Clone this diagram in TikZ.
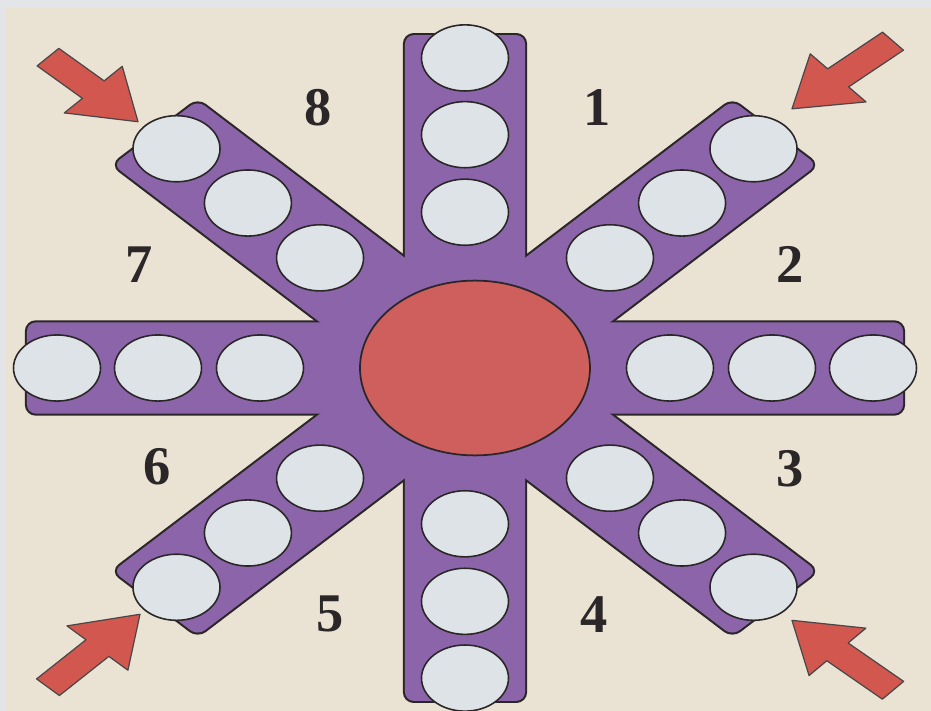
\documentclass[tikz,border=0pt]{standalone}
\usepackage{fontspec}
\setmainfont{Liberation Serif}
\usetikzlibrary{calc}

\definecolor{paper}{HTML}{EAE3D3}
\definecolor{edgegray}{HTML}{E3E5E8}
\definecolor{armpurple}{HTML}{8B64AA}
\definecolor{holegray}{HTML}{DDE3E6}
\definecolor{hubred}{HTML}{CF5F5C}
\definecolor{arrowred}{HTML}{D2574F}
\definecolor{ink}{HTML}{2B2728}

\begin{document}
\begin{tikzpicture}[
    xscale=2, yscale=1.52,
    armedge/.style = {draw=ink, line width=2.4pt, fill=armpurple, rounded corners=5pt},
    armfill/.style = {fill=armpurple, rounded corners=5pt},
    hole/.style    = {circle, draw=ink, line width=0.9pt, fill=holegray, minimum size=0.87cm, inner sep=0pt, transform shape},
    hub/.style     = {circle, draw=ink, line width=1pt, fill=hubred, minimum size=2.3cm, inner sep=0pt, transform shape},
    num/.style     = {font=\fontsize{31}{37}\selectfont\bfseries, text=ink, inner sep=0pt},
    pointer/.style = {fill=arrowred, draw=ink!85, line width=0.7pt, line join=round},
]

%% ---- Paper ----

\fill[edgegray] (-4.65,-4.513) rectangle (4.66,4.842);
\fill[paper] (-4.60,-4.513) rectangle (4.66,4.737);
\useasboundingbox (-4.65,-4.513) rectangle (4.66,4.842);

%% ---- Arms: outline pass, then fill pass to merge them ----

\foreach \a in {0,45,...,315}{
    \path[armedge, rotate=\a] (0,-0.6) rectangle (4.38,0.6);
}
\foreach \a in {0,45,...,315}{
    \path[armfill, rotate=\a] (0,-0.6) rectangle (4.38,0.6);
}

%% ---- Holes on the arms ----

\foreach \k/\a in {1/90, 2/45, 3/0, 4/-45, 5/-90, 6/-135, 7/180, 8/135}{
    \foreach \i/\r in {1/2.05, 2/3.07, 3/4.08}{
        \node[hole] (h\k-\i) at (\a:\r) {};
    }
}

%% ---- Centre ----

\node[hub] (hub) at (0.1,0) {};

%% ---- Sector numbers ----

\node[num] (n1) at ( 1.32, 3.43) {1};
\node[num] (n2) at ( 3.25, 1.36) {2};
\node[num] (n3) at ( 3.25,-1.33) {3};
\node[num] (n4) at ( 1.29,-3.24) {4};
\node[num] (n5) at (-1.35,-3.24) {5};
\node[num] (n6) at (-3.08,-1.30) {6};
\node[num] (n7) at (-3.26, 1.36) {7};
\node[num] (n8) at (-1.47, 3.42) {8};

%% ---- Red pointers at the four corner arms ----

\coordinate (ne-tail) at ( 4.28, 4.30);  \coordinate (ne-tip) at ( 3.27, 3.41);
\coordinate (se-tail) at ( 4.28,-4.24);  \coordinate (se-tip) at ( 3.27,-3.32);
\coordinate (sw-tail) at (-4.17,-4.20);  \coordinate (sw-tip) at (-3.25,-3.24);
\coordinate (nw-tail) at (-4.17, 4.09);  \coordinate (nw-tip) at (-3.27, 3.24);

\foreach \c in {ne, se, sw, nw}{
    \coordinate (\c-base) at ($(\c-tip)!17.5pt!(\c-tail)$);
    \filldraw[pointer] ($(\c-tail)!4.5pt!90:(\c-tip)$) -- ($(\c-base)!4.5pt!90:(\c-tip)$)
        -- ($(\c-base)!12pt!90:(\c-tip)$) -- (\c-tip)
        -- ($(\c-base)!12pt!-90:(\c-tip)$) -- ($(\c-base)!4.5pt!-90:(\c-tip)$)
        -- ($(\c-tail)!4.5pt!-90:(\c-tip)$) -- cycle;
}

\end{tikzpicture}
\end{document}
